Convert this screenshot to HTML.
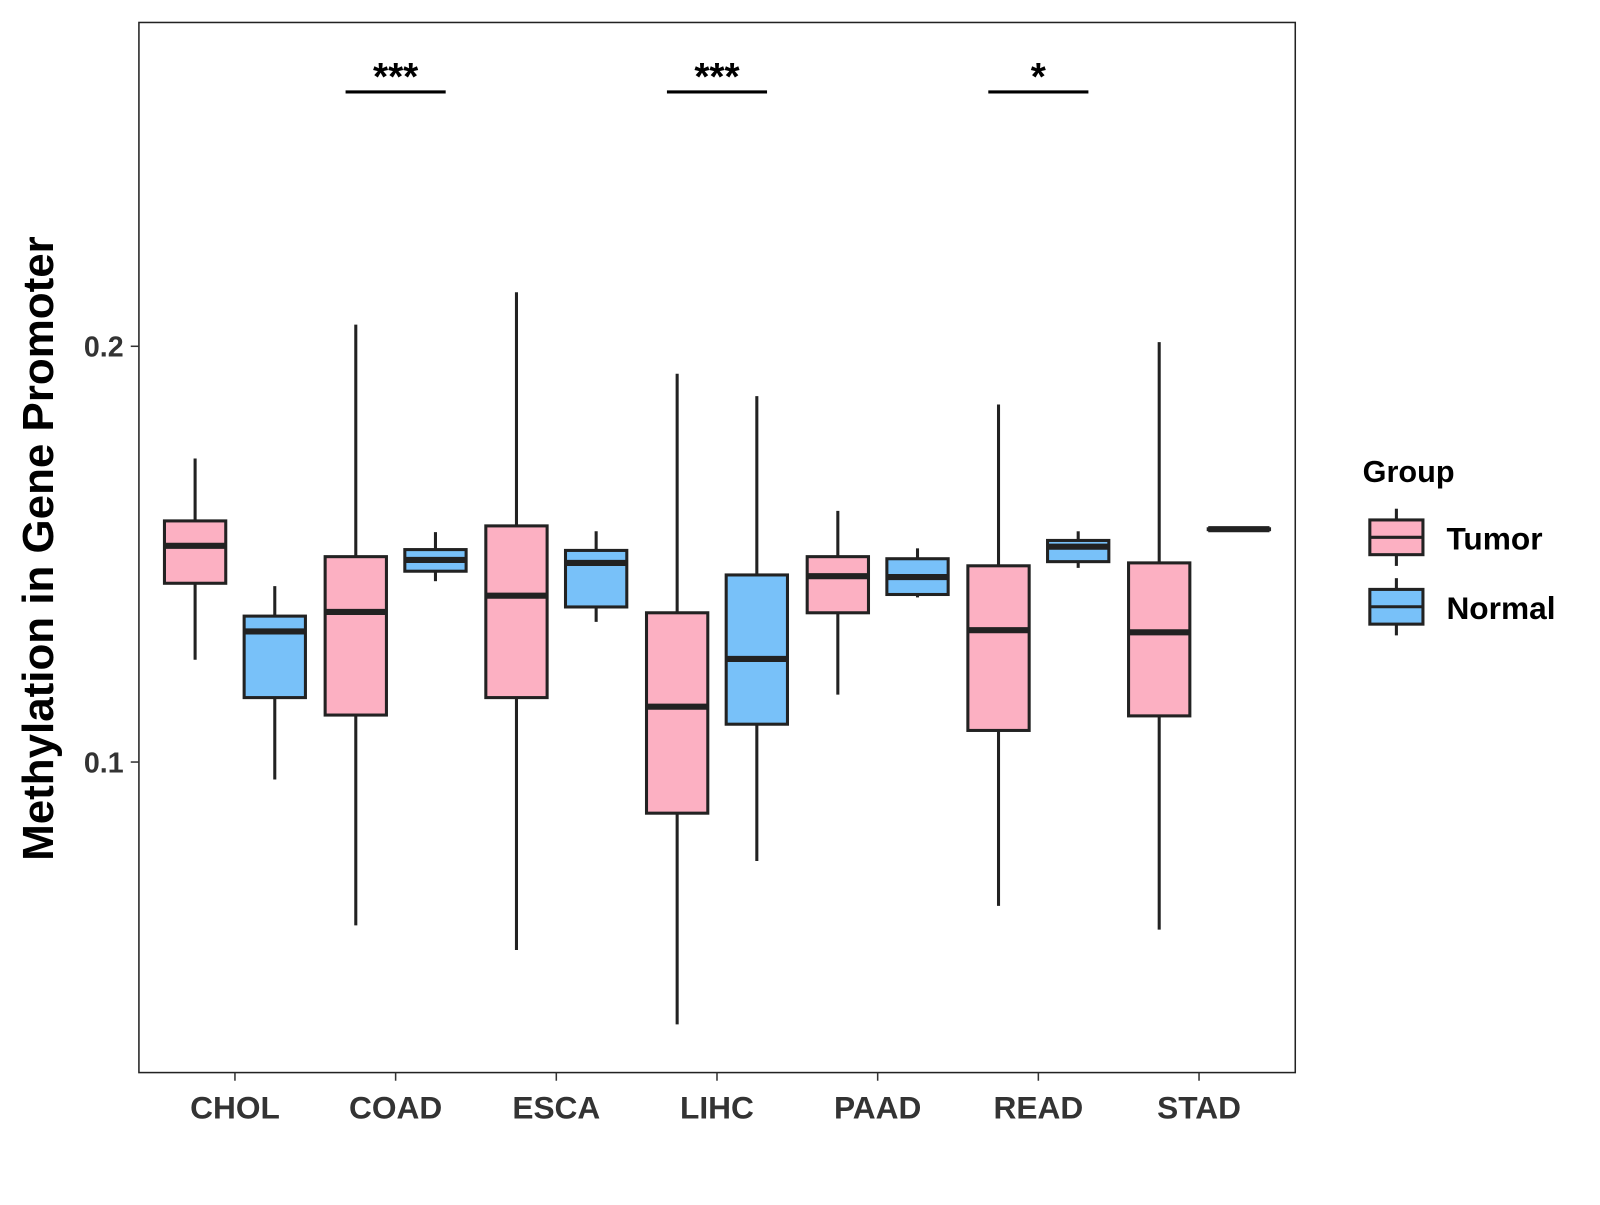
<!DOCTYPE html>
<html><head><meta charset="utf-8"><style>
body{margin:0;background:#fff}
svg text{font-family:"Liberation Sans",Arial,sans-serif;font-weight:bold}
</style></head><body>
<svg id="chart" width="1600" height="1200" viewBox="0 0 1600 1200" xmlns="http://www.w3.org/2000/svg">
<g transform="scale(1.0215)">
<rect x="136" y="22" width="1132" height="1028" fill="#fff" stroke="#222" stroke-width="1.5"/>
<g id="marks"></g>
<g id="axes"></g>
<text x="0" y="0" transform="translate(52,537) rotate(-90)" text-anchor="middle" font-size="43" fill="#000">Methylation in Gene Promoter</text>
<g>
<text x="1334" y="472" font-size="30" fill="#000">Group</text>
<g>
<line x1="1367" y1="498" x2="1367" y2="554" stroke="#222" stroke-width="3"/>
<rect x="1341" y="509" width="52" height="34" fill="#FCB0C2" stroke="#222" stroke-width="3"/>
<line x1="1341" y1="526" x2="1393" y2="526" stroke="#222" stroke-width="3"/>
<text x="1416" y="538" font-size="31" fill="#000">Tumor</text></g>
<g>
<line x1="1367" y1="566" x2="1367" y2="622" stroke="#222" stroke-width="3"/>
<rect x="1341" y="577" width="52" height="34" fill="#78C1F9" stroke="#222" stroke-width="3"/>
<line x1="1341" y1="594" x2="1393" y2="594" stroke="#222" stroke-width="3"/>
<text x="1416" y="606" font-size="31" fill="#000">Normal</text></g>
</g>
</g>
</svg>
<script>
const categories=["CHOL","COAD","ESCA","LIHC","PAAD","READ","STAD"];
const groups=["Tumor","Normal"];
// [low, q1, median, q3, high]
const tumorStats=[[0.1246,0.143,0.152,0.158,0.173],[0.0607,0.1113,0.1361,0.1494,0.2052],[0.0548,0.1155,0.140,0.1568,0.213],[0.0369,0.0877,0.1133,0.1359,0.1934],[0.1162,0.1359,0.1447,0.1494,0.1604],[0.0654,0.1076,0.1317,0.1472,0.186],[0.0597,0.1111,0.1312,0.1479,0.201]];
const normalStats=[[0.0958,0.1155,0.1314,0.1351,0.1423],[0.1435,0.1459,0.1486,0.1511,0.1553],[0.1337,0.1373,0.1479,0.1509,0.1555],[0.0762,0.1091,0.1248,0.145,0.188],[0.1396,0.1403,0.1445,0.1489,0.1514],[0.1467,0.1482,0.1518,0.1533,0.1555],[0.1558,0.1559,0.156,0.1561,0.1562]];
const yTicks=[0.1,0.2];
const yTickLabels=["0.1","0.2"];
const signifLabels=["","***","","***","","*",""];
const colors=["#FCB0C2","#78C1F9"];
const NS="http://www.w3.org/2000/svg";
function yScale(v){return 339+(0.2-v)*4070;}
function xScale(i){return 230+i*157.3;}
function mk(tag,attrs,parent){const e=document.createElementNS(NS,tag);for(const k in attrs)e.setAttribute(k,attrs[k]);parent.appendChild(e);return e;}
const marks=document.getElementById('marks'),axes=document.getElementById('axes');
const bw=60,off=39;
categories.forEach((c,i)=>{
 [tumorStats,normalStats].forEach((S,g)=>{
  const s=S[i],cx=xScale(i)+(g?off:-off);
  const grp=mk('g',{},marks);
  
  
  mk('line',{x1:cx,x2:cx,y1:yScale(s[4]),y2:yScale(s[0]),stroke:'#222','stroke-width':3},grp);
  mk('rect',{x:cx-bw/2,y:yScale(s[3]),width:bw,height:Math.max(0,yScale(s[1])-yScale(s[3])),fill:colors[g],stroke:'#222','stroke-width':3},grp);
  mk('line',{x1:cx-bw/2,x2:cx+bw/2,y1:yScale(s[2]),y2:yScale(s[2]),stroke:'#222','stroke-width':6},grp);
 });
 const t=mk('line',{x1:xScale(i),x2:xScale(i),y1:1050,y2:1058,stroke:'#333','stroke-width':1.5},axes);
 
 
 const l=mk('text',{x:xScale(i),y:1095,'text-anchor':'middle','font-size':31,fill:'#333'},axes);
 l.textContent=c;
 
 
 if(signifLabels[i]){
  const sg=mk('g',{},marks);
  
  
  mk('line',{x1:xScale(i)-49,x2:xScale(i)+49,y1:90,y2:90,stroke:'#000','stroke-width':3},sg);
  const st=mk('text',{x:xScale(i),y:88,'text-anchor':'middle','font-size':38,fill:'#000'},sg);
  st.textContent=signifLabels[i];
 }
});
yTicks.forEach((v,k)=>{
 const t=mk('line',{x1:128,x2:136,y1:yScale(v),y2:yScale(v),stroke:'#333','stroke-width':1.5},axes);
 
 
 const l=mk('text',{x:121,y:yScale(v)+10,'text-anchor':'end','font-size':28,fill:'#333'},axes);
 l.textContent=yTickLabels[k];
 
 
});
</script>
</body></html>
